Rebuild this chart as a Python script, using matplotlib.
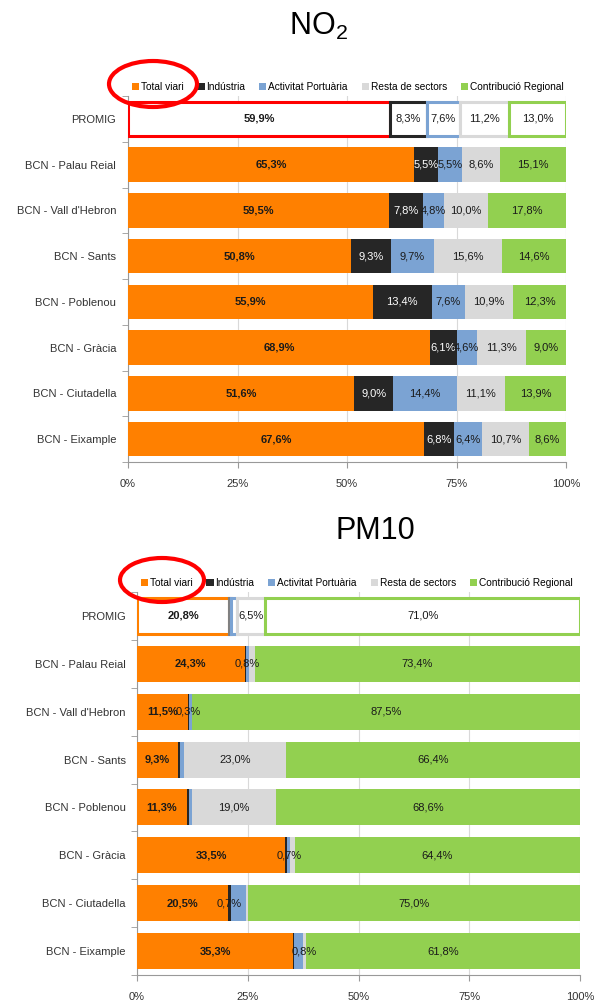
import numpy as np
import matplotlib
matplotlib.use('Agg')
import matplotlib.pyplot as plt
from matplotlib.patches import Ellipse, Patch

plt.rcParams['font.family'] = ['Liberation Sans Narrow', 'Liberation Sans', 'DejaVu Sans']
plt.rcParams['mathtext.fontset'] = 'custom'
plt.rcParams['mathtext.rm'] = 'Liberation Sans'
plt.rcParams['mathtext.it'] = 'Liberation Sans'

# ---- data ----
stations = ['PROMIG', 'BCN - Palau Reial', "BCN - Vall d'Hebron", 'BCN - Sants',
            'BCN - Poblenou', 'BCN - Gràcia', 'BCN - Ciutadella', 'BCN - Eixample']
series = ['Total viari', 'Indústria', 'Activitat Portuària', 'Resta de sectors',
          'Contribució Regional']

no2_viari = [59.9, 65.3, 59.5, 50.8, 55.9, 68.9, 51.6, 67.6]
no2_ind = [8.3, 5.5, 7.8, 9.3, 13.4, 6.1, 9.0, 6.8]
no2_port = [7.6, 5.5, 4.8, 9.7, 7.6, 4.6, 14.4, 6.4]
no2_resta = [11.2, 8.6, 10.0, 15.6, 10.9, 11.3, 11.1, 10.7]
no2_reg = [13.0, 15.1, 17.8, 14.6, 12.3, 9.0, 13.9, 8.6]

pm_viari = [20.8, 24.3, 11.5, 9.3, 11.3, 33.5, 20.5, 35.3]
pm_ind = [0.5, 0.2, 0.3, 0.3, 0.4, 0.4, 0.7, 0.2]
pm_port = [1.2, 0.8, 0.6, 1.0, 0.7, 0.7, 3.4, 1.9]
pm_resta = [6.5, 1.3, 0.1, 23.0, 19.0, 1.0, 0.4, 0.8]
pm_reg = [71.0, 73.4, 87.5, 66.4, 68.6, 64.4, 75.0, 61.8]

# which small PM10 segments carry a label
pm_ind_lbl = [False, False, True, False, False, False, True, False]
pm_port_lbl = [False, True, False, False, False, True, False, False]
pm_resta_lbl = [True, False, False, True, True, False, False, True]

colors = ['#ff8000', '#262626', '#7ba3d3', '#d9d9d9', '#92d050']
txt_col = ['#1a1a1a', 'white', '#1a1a1a', '#1a1a1a', '#1a1a1a']


def fmt(v):
    return ('%.1f%%' % v).replace('.', ',')


def draw(ax, data, show, promig_edges, label_cols, ypad):
    y = np.arange(len(stations))
    left = np.zeros(len(stations))
    for k, vals in enumerate(data):
        vals = np.array(vals)
        # station bars
        ax.barh(y[1:], vals[1:], left=left[1:], height=0.75, color=colors[k],
                edgecolor='none', zorder=3)
        # PROMIG bar as outlined box
        ax.barh(y[0], vals[0], left=left[0], height=0.75, color='white',
                edgecolor=promig_edges[k], linewidth=2.2, zorder=3)
        for i in range(len(stations)):
            if show[k][i]:
                c = label_cols[k] if i > 0 else '#1a1a1a'
                ax.text(left[i] + vals[i] / 2, y[i], fmt(vals[i]), ha='center',
                        va='center', fontsize=8, color=c,
                        fontweight='bold' if k == 0 else 'normal', zorder=5)
        left += vals
    ax.set_xlim(0, 100)
    ax.set_ylim(len(stations) - 0.5, -0.5)
    ax.set_yticks(y)
    ax.set_yticklabels(stations, fontsize=8, color='#333333')
    ax.set_yticks(np.arange(len(stations) + 1) - 0.5, minor=True)
    ax.tick_params(axis='y', which='major', length=0, pad=ypad)
    ax.tick_params(axis='y', which='minor', length=4, color='#999999')
    ax.set_xticks([0, 25, 50, 75, 100])
    ax.set_xticklabels(['0%', '25%', '50%', '75%', '100%'], fontsize=8, color='#333333')
    ax.tick_params(axis='x', length=4, color='#999999', pad=8)
    ax.grid(axis='x', color='#d9d9d9', linewidth=0.8, zorder=0)
    for s in ['top', 'right']:
        ax.spines[s].set_visible(False)
    ax.spines['left'].set_color('#999999')
    ax.spines['bottom'].set_color('#999999')
    handles = [Patch(facecolor=c, edgecolor='none') for c in colors]
    ax.legend(handles, series, ncol=5, loc='lower left', bbox_to_anchor=(-0.005, 0.995),
              frameon=False, fontsize=7.3, handlelength=0.7, handleheight=0.7,
              handletextpad=0.2, columnspacing=1.35, borderaxespad=0.2)


fig = plt.figure(figsize=(5.96, 10), dpi=100)

ax1 = fig.add_axes([0.2148, 0.538, 0.7349, 0.366])
no2 = [no2_viari, no2_ind, no2_port, no2_resta, no2_reg]
no2_show = [[True] * 8 for _ in range(5)]
draw(ax1, no2, no2_show, ['#ff0000', '#262626', '#7ba3d3', '#d9d9d9', '#92d050'],
     txt_col, 8.5)

ax2 = fig.add_axes([0.2299, 0.025, 0.7433, 0.383])
pm = [pm_viari, pm_ind, pm_port, pm_resta, pm_reg]
pm_show = [[True] * 8, pm_ind_lbl, pm_port_lbl, pm_resta_lbl, [True] * 8]
draw(ax2, pm, pm_show, ['#ff8000', '#808080', '#7ba3d3', '#d9d9d9', '#92d050'],
     ['#1a1a1a'] * 5, 8)

fig.text(0.534, 0.974, r'NO$_{\mathrm{2}}$', ha='center', va='center', fontsize=22,
         family='Liberation Sans')
fig.text(0.629, 0.469, 'PM10', ha='center', va='center', fontsize=22,
         family='Liberation Sans')

# red hand-drawn highlight circles around "Total viari"
fig.patches.append(Ellipse((153 / 596, 1 - 84 / 1000), 88 / 596, 46 / 1000,
                           transform=fig.transFigure, fill=False,
                           edgecolor='#ff0000', linewidth=3))
fig.patches.append(Ellipse((162 / 596, 1 - 580 / 1000), 84 / 596, 44 / 1000,
                           transform=fig.transFigure, fill=False,
                           edgecolor='#ff0000', linewidth=3))

fig.savefig('out.png', dpi=100)
